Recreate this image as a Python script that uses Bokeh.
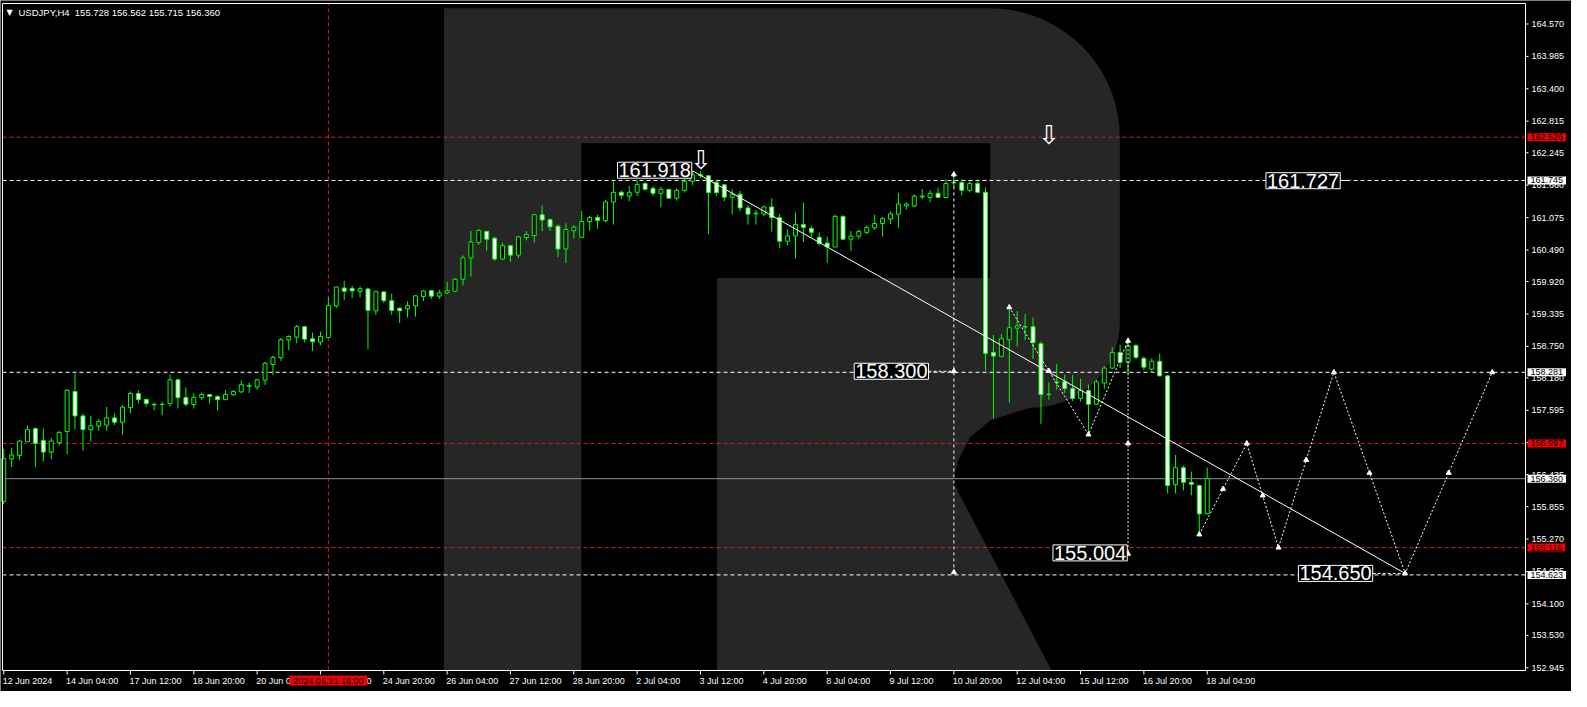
import math
from bokeh.plotting import figure
from bokeh.models import Range1d, Label, ColumnDataSource
from bokeh.core.properties import value
from bokeh.embed import file_html
from bokeh.resources import INLINE

# ---------------- data (USDJPY H4) ----------------
opens = [155.950, 156.717, 156.782, 157.029, 157.264, 157.052, 156.840, 157.011, 157.211, 157.934,
         157.493, 157.246, 157.311, 157.328, 157.458, 157.381, 157.646, 157.898, 157.793, 157.705,
         157.699, 157.716, 158.145, 157.828, 157.699, 157.822, 157.881, 157.846, 157.787, 157.875,
         157.928, 158.028, 158.016, 158.139, 158.422, 158.545, 158.863, 158.916, 159.104, 158.886,
         158.827, 158.910, 159.480, 159.803, 159.797, 159.744, 159.786, 159.392, 159.733, 159.574,
         159.439, 159.427, 159.480, 159.650, 159.756, 159.656, 159.715, 159.744, 159.962, 160.344,
         160.626, 160.826, 160.703, 160.326, 160.567, 160.397, 160.714, 160.750, 161.126, 161.038,
         160.920, 160.508, 160.838, 160.720, 161.002, 161.078, 161.020, 161.355, 161.531, 161.461,
         161.531, 161.690, 161.602, 161.513, 161.584, 161.425, 161.566, 161.731, 161.848, 161.831,
         161.713, 161.666, 161.443, 161.496, 161.249, 161.143, 161.137, 161.267, 161.073, 160.649,
         160.743, 160.949, 160.879, 160.720, 160.614, 160.544, 161.096, 160.685, 160.738, 160.808,
         160.891, 160.967, 161.049, 161.137, 161.284, 161.284, 161.449, 161.437, 161.514, 161.437,
         161.702, 161.708, 161.567, 161.690, 161.531, 158.639, 158.569, 158.869, 159.080, 159.098,
         159.104, 158.798, 157.881, 158.093, 158.110, 157.987, 157.810, 157.951, 157.704, 158.087,
         158.357, 158.639, 158.463, 158.763, 158.533, 158.339, 158.480, 158.216, 156.253, 156.558,
         156.294, 156.235, 155.728]
highs = [156.899, 156.917, 157.058, 157.322, 157.287, 157.270, 157.093, 157.228, 157.975, 158.257,
         157.534, 157.499, 157.440, 157.658, 157.534, 157.687, 157.934, 157.957, 157.800, 157.734,
         157.752, 158.239, 158.163, 158.010, 157.904, 157.916, 157.890, 157.863, 157.957, 157.957,
         158.134, 158.098, 158.163, 158.469, 158.580, 158.904, 158.951, 159.139, 159.121, 158.998,
         159.016, 159.639, 159.830, 159.933, 159.844, 159.827, 159.809, 159.756, 159.740, 159.703,
         159.450, 159.562, 159.670, 159.760, 159.770, 159.774, 159.915, 159.980, 160.391, 160.832,
         160.867, 160.830, 160.726, 160.620, 160.585, 160.744, 160.832, 161.143, 161.290, 161.055,
         160.950, 160.973, 160.938, 161.196, 161.108, 161.126, 161.396, 161.731, 161.566, 161.643,
         161.748, 161.719, 161.643, 161.631, 161.590, 161.602, 161.772, 161.918, 161.910, 161.840,
         161.760, 161.680, 161.584, 161.555, 161.308, 161.208, 161.290, 161.425, 161.143, 160.867,
         161.167, 161.343, 160.920, 160.808, 160.732, 161.126, 161.114, 160.832, 160.861, 160.938,
         161.126, 161.085, 161.184, 161.520, 161.343, 161.496, 161.590, 161.572, 161.619, 161.761,
         161.837, 161.761, 161.725, 161.761, 161.619, 158.957, 158.974, 159.456, 159.386, 159.333,
         159.268, 158.839, 158.098, 158.433, 158.234, 158.234, 158.163, 158.057, 158.145, 158.392,
         158.733, 158.780, 158.821, 158.798, 158.569, 158.533, 158.621, 158.234, 156.788, 156.594,
         156.488, 156.253, 156.562]
lows = [155.900, 156.570, 156.694, 157.029, 156.570, 156.676, 156.711, 156.958, 156.799, 157.252,
        156.870, 157.029, 157.223, 157.223, 157.328, 157.152, 157.540, 157.716, 157.663, 157.593,
        157.505, 157.663, 157.628, 157.663, 157.628, 157.781, 157.716, 157.593, 157.780, 157.857,
        157.904, 157.904, 157.963, 158.051, 158.228, 158.487, 158.680, 158.804, 158.822, 158.663,
        158.769, 158.900, 159.439, 159.586, 159.621, 159.633, 158.704, 159.315, 159.533, 159.315,
        159.174, 159.268, 159.286, 159.568, 159.603, 159.603, 159.692, 159.740, 159.850, 160.009,
        160.585, 160.479, 160.291, 160.309, 160.273, 160.344, 160.661, 160.626, 160.832, 160.832,
        160.361, 160.256, 160.702, 160.714, 160.838, 160.873, 160.984, 160.949, 161.408, 161.367,
        161.461, 161.566, 161.466, 161.261, 161.420, 161.378, 161.525, 161.660, 161.790, 160.773,
        161.466, 161.367, 161.137, 161.190, 160.949, 160.949, 161.102, 160.820, 160.520, 160.573,
        160.332, 160.632, 160.720, 160.573, 160.256, 160.540, 160.667, 160.467, 160.685, 160.773,
        160.849, 160.732, 160.955, 160.891, 161.220, 161.261, 161.408, 161.349, 161.430, 161.420,
        161.625, 161.478, 161.531, 161.514, 158.310, 157.450, 158.551, 157.734, 158.745, 158.863,
        158.520, 157.352, 157.787, 157.969, 157.910, 157.763, 157.752, 157.158, 157.700, 157.981,
        158.350, 158.357, 158.251, 158.516, 158.322, 158.269, 158.210, 156.094, 156.094, 156.147,
        156.059, 155.353, 155.715]
closes = [156.723, 156.788, 157.040, 157.246, 156.999, 156.840, 157.040, 157.193, 157.957, 157.493,
          157.246, 157.317, 157.393, 157.458, 157.381, 157.652, 157.898, 157.787, 157.716, 157.693,
          157.705, 158.145, 157.822, 157.705, 157.828, 157.881, 157.846, 157.787, 157.881, 157.934,
          158.057, 158.045, 158.145, 158.445, 158.551, 158.869, 158.927, 159.104, 158.880, 158.833,
          158.927, 159.486, 159.821, 159.744, 159.750, 159.791, 159.398, 159.739, 159.574, 159.398,
          159.392, 159.486, 159.662, 159.750, 159.656, 159.715, 159.756, 159.962, 160.350, 160.632,
          160.844, 160.685, 160.326, 160.567, 160.397, 160.726, 160.773, 161.126, 161.032, 160.908,
          160.508, 160.861, 160.902, 161.002, 161.078, 161.020, 161.355, 161.531, 161.478, 161.531,
          161.672, 161.584, 161.513, 161.584, 161.425, 161.566, 161.731, 161.848, 161.838, 161.525,
          161.525, 161.443, 161.496, 161.249, 161.137, 161.155, 161.267, 161.073, 160.649, 160.743,
          160.949, 160.896, 160.808, 160.608, 160.544, 161.096, 160.685, 160.738, 160.826, 160.896,
          160.967, 161.055, 161.143, 161.320, 161.320, 161.461, 161.461, 161.514, 161.437, 161.690,
          161.714, 161.567, 161.690, 161.531, 158.622, 158.575, 158.886, 159.086, 159.121, 159.110,
          158.816, 157.881, 157.885, 158.110, 157.987, 157.810, 157.951, 157.704, 158.110, 158.357,
          158.639, 158.463, 158.763, 158.551, 158.375, 158.480, 158.216, 156.235, 156.558, 156.294,
          156.259, 155.724, 156.360]

time_tick_index = [0, 8, 16, 24, 32, 40, 48, 56, 64, 72, 80, 88, 96, 104, 112, 120, 128, 136, 144, 152]
time_tick_labels = ["12 Jun 2024", "14 Jun 04:00", "17 Jun 12:00", "18 Jun 20:00", "20 Jun 04:00",
                    "21 Jun 12:00", "24 Jun 20:00", "26 Jun 04:00", "27 Jun 12:00", "28 Jun 20:00",
                    "2 Jul 04:00", "3 Jul 12:00", "4 Jul 20:00", "8 Jul 04:00", "9 Jul 12:00",
                    "10 Jul 20:00", "12 Jul 04:00", "15 Jul 12:00", "16 Jul 20:00", "18 Jul 04:00"]
price_ticks = [164.570, 163.985, 163.400, 162.815, 162.245, 161.660, 161.075, 160.490, 159.920, 159.335,
               158.750, 158.180, 157.595, 157.010, 156.435, 155.855, 155.270, 154.685, 154.100, 153.530,
               152.945]
price_tick_labels = ["164.570", "163.985", "163.400", "162.815", "162.245", "161.660", "161.075",
                     "160.490", "159.920", "159.335", "158.750", "158.180", "157.595", "157.010",
                     "156.435", "155.855", "155.270", "154.685", "154.100", "153.530", "152.945"]

red_levels = [162.526, 156.997, 155.116]
white_levels = [161.745, 158.281, 154.623]
current_price = 156.360
marked_time_index = 41
marked_time_label = "2024.06.21 16:00"
title_text = "USDJPY,H4\u00a0 155.728 156.562 155.715 156.360"

# analysis objects drawn on the chart
trend_x = [87, 177]
trend_y = [161.918, 154.650]
vert1_x = [120, 120]
vert1_y = [161.854, 154.670]
path2_x = [127, 137, 142, 142]
path2_y = [159.456, 157.158, 158.850, 155.004]
fc_x = [151, 157, 161, 168, 177, 188]
fc_y = [155.353, 156.997, 155.116, 158.281, 154.650, 158.281]
boxed_labels = [  # text, anchor index, anchor price
    ("161.918", 86.9, 161.930),
    ("161.727", 168.8, 161.740),
    ("158.300", 116.8, 158.300),
    ("155.004", 141.9, 155.020),
    ("154.650", 172.9, 154.650),
]
down_arrows_x = [88.05, 132.0]
down_arrows_y = [162.110, 162.569]

# ---------------- layout ----------------
W, H = 1571, 691
CL, CR, CT, CB = 2, 1525, 3, 670          # chart frame in canvas pixels
X0, X1 = -0.16, 192.2                     # candle-index range of the chart frame
Y0, Y1 = 152.897, 164.940                 # price range of the chart frame
SX = (CR - CL) / (X1 - X0)
SY = (CB - CT) / (Y1 - Y0)
xr = Range1d(X0 - CL / SX, X1 + (W - CR) / SX)
yr = Range1d(Y0 - (H - CB) / SY, Y1 + CT / SY)

p = figure(frame_width=W, frame_height=H, x_range=xr, y_range=yr,
           x_axis_location=None, y_axis_location=None,
           output_backend="svg", toolbar_location=None,
           background_fill_color="black", border_fill_color="black",
           min_border=0, outline_line_color=None)
p.grid.visible = False

FONT = "Liberation Sans"
GREEN = "#00ff00"
RED = "#e01c1c"

# logo watermark (outline in reference-pixel coordinates, converted to data coords)
def ref_px(x, y):
    return ((x - 3.3) / 8.0, 164.570 - (y - 24) / 56.71)

logo = [(448, 8), (1000, 8)]
for k in range(1, 19):
    t = math.radians(90 * k / 18)
    logo.append((1000 + 131 * math.sin(t), 140 - 132 * math.cos(t)))
logo.append((1131, 330))
for k in range(1, 19):
    t = math.radians(90 * k / 18)
    logo.append((1040 + 91 * math.cos(t), 330 + 87 * math.sin(t)))
logo += [(1000, 430), (980, 447), (968, 470), (962, 492), (1062, 686), (724, 686), (724, 284),
         (587, 284), (587, 686), (448, 686)]
lx, ly = zip(*[ref_px(a, b) for a, b in logo])
p.patch(list(lx), list(ly), fill_color="#262626", line_color=None)
cx, cy = zip(*[ref_px(a, b) for a, b in [(587, 146), (1000, 146), (1000, 284), (587, 284)]])
p.patch(list(cx), list(cy), fill_color="black", line_color=None)

# level lines
n_r, n_w = len(red_levels), len(white_levels)
p.segment(x0=[X0] * n_r, y0=red_levels, x1=[X1] * n_r, y1=red_levels, line_color=RED,
          line_dash="4 3", line_width=1)
p.segment(x0=[X0] * n_w, y0=white_levels, x1=[X1] * n_w, y1=white_levels, line_color="white",
          line_dash="4 3", line_width=1)
p.segment(x0=[X0], y0=[current_price], x1=[X1], y1=[current_price], line_color="#8c9299", line_width=1)
p.segment(x0=[marked_time_index], y0=[Y0], x1=[marked_time_index], y1=[Y1], line_color=RED,
          line_dash="4 3", line_width=1)

# candles
xs = list(range(len(opens)))
src = ColumnDataSource(dict(
    x=xs, high=highs, low=lows,
    top=[max(o, c) for o, c in zip(opens, closes)],
    bottom=[min(o, c) for o, c in zip(opens, closes)],
    fill=["black" if c >= o else "white" for o, c in zip(opens, closes)],
))
p.segment(x0="x", y0="low", x1="x", y1="high", source=src, line_color=GREEN, line_width=1)
p.vbar(x="x", top="top", bottom="bottom", width=0.5, source=src, fill_color="fill",
       line_color=GREEN, line_width=1)

# analysis drawings
p.line(trend_x, trend_y, line_color="white", line_width=1)
p.line(vert1_x, vert1_y, line_color="white", line_width=1, line_dash="3 3")
p.line([116.8, 120], [158.300, 158.300], line_color="white", line_width=1, line_dash="3 2")
p.line(path2_x, path2_y, line_color="white", line_width=1, line_dash="2 2")
p.line(fc_x, fc_y, line_color="white", line_width=1, line_dash="2 2")
p.line([172.9, 177], [154.650, 154.650], line_color="white", line_width=1, line_dash="3 2")
p.line([168.8, 170], [161.745, 161.745], line_color="white", line_width=1)

mk_x = vert1_x + [120] + path2_x + [142, 132] + fc_x
mk_y = vert1_y + [158.300] + path2_y + [156.997, 158.307] + fc_y
mid_x = [(fc_x[k] + fc_x[k + 1]) / 2 for k in range(len(fc_x) - 1)]
mid_y = [(fc_y[k] + fc_y[k + 1]) / 2 for k in range(len(fc_y) - 1)]
p.scatter(mk_x + mid_x, mk_y + mid_y, marker="triangle", size=5, fill_color="white", line_color="white")

p.text(x=down_arrows_x, y=down_arrows_y, text=["\u21e9"] * len(down_arrows_x),
       text_font=value("DejaVu Sans"), text_font_size="26px", text_color="white",
       text_align="center", text_baseline="middle")

for txt, ax, ay in boxed_labels:
    p.add_layout(Label(x=ax, y=ay, text=txt, text_align="right", text_baseline="middle",
                       text_font=FONT, text_font_size="20px", text_color="white",
                       background_fill_color="black", border_line_color="white", padding=(1, 1)))

# chart frame
p.line([X0, X1, X1, X0, X0], [Y0, Y0, Y1, Y1, Y0], line_color="white", line_width=1)

# price scale (right)
n_p = len(price_ticks)
p.segment(x0=[X1] * n_p, y0=price_ticks, x1=[X1 + 3 / SX] * n_p, y1=price_ticks, line_color="white")
p.text(x=[X1] * n_p, y=price_ticks, text=price_tick_labels, x_offset=6, text_font=value(FONT),
       text_font_size="9px", text_color="white", text_align="left", text_baseline="middle")
for lv in red_levels:
    p.add_layout(Label(x=X1, y=lv, x_offset=2, text="%.3f" % lv, text_align="left",
                       text_baseline="middle", text_font=FONT, text_font_size="9px", text_color="black",
                       background_fill_color="#f00000", padding=(3, 1)))
for lv in white_levels + [current_price]:
    p.add_layout(Label(x=X1, y=lv, x_offset=2, text="%.3f" % lv, text_align="left",
                       text_baseline="middle", text_font=FONT, text_font_size="9px", text_color="black",
                       background_fill_color="white", padding=(3, 1)))

# time scale (bottom)
n_t = len(time_tick_index)
p.segment(x0=time_tick_index, y0=[Y0] * n_t, x1=time_tick_index, y1=[Y0 - 4 / SY] * n_t,
          line_color="white")
p.text(x=time_tick_index, y=[Y0 - 5 / SY] * n_t, text=time_tick_labels, x_offset=-1,
       text_font=value(FONT), text_font_size="9px", text_color="white",
       text_align="left", text_baseline="top")
p.add_layout(Label(x=marked_time_index, y=Y0 - 5 / SY, text=marked_time_label, text_align="center",
                   text_baseline="top", text_font=FONT, text_font_size="9px", text_color="black",
                   background_fill_color="#f00000", padding=(4, 0)))

# title
p.add_layout(Label(x=X0, y=Y1, x_offset=4, y_offset=-4, text="\u25bc", text_align="left",
                   text_baseline="top", text_font="DejaVu Sans", text_font_size="8px", text_color="white"))
p.add_layout(Label(x=X0, y=Y1, x_offset=16, y_offset=-3, text=title_text, text_align="left",
                   text_baseline="top", text_font=FONT, text_font_size="9.5px", text_color="white"))

open("out.html", "w").write(file_html(p, INLINE))
